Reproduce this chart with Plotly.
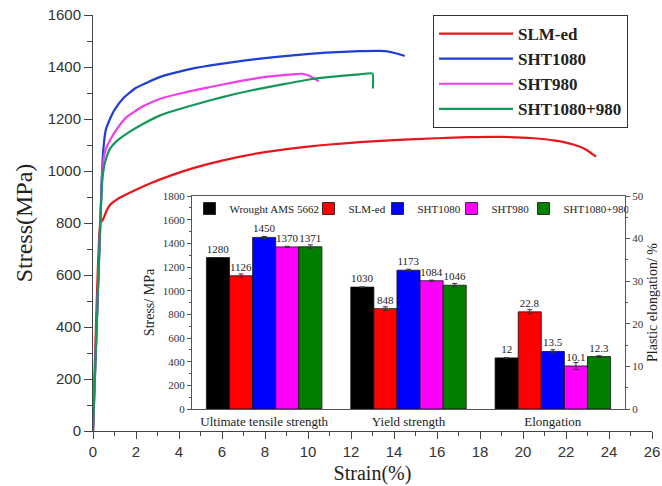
import plotly.graph_objects as go

# ---------------- main stress-strain curves ----------------
slm_strain = [0, 0.34, 0.42, 0.5, 0.62, 0.8, 1.2, 2.0, 2.65, 3.7, 4.7, 6.0, 7.8, 9.0, 10.0, 11.0,
              12.4, 14.0, 16.0, 17.5, 19.0, 20.5, 21.5, 22.3, 22.9, 23.4]
slm_stress = [0, 800, 808, 820, 845, 870, 895, 928, 952, 985, 1012, 1040, 1070, 1084, 1094, 1102,
              1111, 1119, 1126, 1130, 1131, 1126, 1117, 1103, 1084, 1055]

sht1080_strain = [0, 0.34, 0.42, 0.5, 0.6, 0.79, 1.0, 1.41, 2.0, 3.13, 4.3, 5.46, 6.6, 7.78, 9.3,
                  10.85, 12.4, 13.35, 13.7, 13.97, 14.25, 14.5]
sht1080_stress = [0, 800, 1000, 1100, 1160, 1200, 1235, 1280, 1320, 1362, 1388, 1406, 1420, 1432, 1445,
                  1455, 1461, 1462, 1460, 1455, 1449, 1442]

sht980_strain = [0, 0.34, 0.42, 0.5, 0.6, 0.79, 1.1, 1.57, 2.3, 3.13, 4.3, 5.46, 6.6, 7.78, 8.6,
                 9.33, 9.72, 10.0, 10.2, 10.5]
sht980_stress = [0, 800, 980, 1050, 1085, 1118, 1160, 1208, 1248, 1278, 1303, 1323, 1342, 1359, 1367,
                 1372, 1374, 1368, 1360, 1345]

combo_strain = [0, 0.34, 0.42, 0.5, 0.6, 0.79, 1.1, 1.57, 2.3, 3.13, 4.3, 5.46, 6.6, 7.78, 9.0,
                10.1, 11.2, 12.4, 13.0, 13.02]
combo_stress = [0, 800, 950, 1010, 1045, 1086, 1115, 1144, 1180, 1214, 1245, 1272, 1296, 1317, 1336,
                1353, 1363, 1372, 1375, 1317]

curve_names = ["SLM-ed", "SHT1080", "SHT980", "SHT1080+980"]
curve_colors = ["#e8161c", "#1f3fd2", "#ee3eee", "#14985a"]

# ---------------- inset bar chart ----------------
strength_categories = ["Ultimate tensile strength", "Yield strength"]
elong_categories = ["Elongation"]
bar_series = ["Wrought AMS 5662", "SLM-ed", "SHT1080", "SHT980", "SHT1080+980"]
bar_colors = ["#000000", "#ff0000", "#0000ff", "#ff00ff", "#008000"]
uts = [1280, 1126, 1450, 1370, 1371]
uts_err = [0, 15, 8, 5, 16]
ys = [1030, 848, 1173, 1084, 1046]
ys_err = [0, 15, 8, 5, 15]
elong = [12, 22.8, 13.5, 10.1, 12.3]
elong_err = [0, 0.5, 0.4, 0.8, 0.2]

serif = "Liberation Serif, Times New Roman, serif"
sans = "Liberation Sans, Arial, sans-serif"

# plot-area geometry in page pixels
PL, PR, PT, PB = 93, 652, 15, 431
PW, PH = PR - PL, PB - PT
FIG_W, FIG_H = 662, 486


def px_x(p):
    return (p - PL) / PW


def px_y(p):
    return (PB - p) / PH


fig = go.Figure()

curves = [(slm_strain, slm_stress), (sht1080_strain, sht1080_stress),
          (sht980_strain, sht980_stress), (combo_strain, combo_stress)]
for (sx, sy), name, col in zip(curves, curve_names, curve_colors):
    fig.add_trace(go.Scatter(x=sx, y=sy, mode="lines", name=name,
                             line=dict(color=col, width=2.2, shape="spline", smoothing=0.4),
                             xaxis="x", yaxis="y", legend="legend"))

bw = 0.16
legend_widths = [74, 24, 29, 27, 60]
for i, (name, col) in enumerate(zip(bar_series, bar_colors)):
    off = -0.4 + i * bw
    fig.add_trace(go.Bar(
        x=strength_categories, y=[uts[i], ys[i]], name=name,
        marker=dict(color=col, line=dict(color="#111111", width=0.8)),
        error_y=dict(type="data", array=[uts_err[i], ys_err[i]], color="#333333", thickness=1, width=2.5),
        text=[str(uts[i]), str(ys[i])], textposition="outside", cliponaxis=False,
        textfont=dict(family=serif, size=11, color="#222222"),
        width=bw, offset=off, xaxis="x2", yaxis="y3", legend="legend2", showlegend=True,
        legendwidth=legend_widths[i]))
    fig.add_trace(go.Bar(
        x=elong_categories, y=[elong[i]], name=name,
        marker=dict(color=col, line=dict(color="#111111", width=0.8)),
        error_y=dict(type="data", array=[elong_err[i]], color="#333333", thickness=1, width=2.5),
        text=[str(elong[i])], textposition="outside", cliponaxis=False,
        textfont=dict(family=serif, size=11, color="#222222"),
        width=bw, offset=off, xaxis="x2", yaxis="y4", legend="legend2", showlegend=False))

axis_col = "#444444"
fig.update_layout(
    width=FIG_W, height=FIG_H,
    margin=dict(l=PL, r=FIG_W - PR, t=PT, b=FIG_H - PB, autoexpand=False),
    paper_bgcolor="white", plot_bgcolor="white",
    barmode="overlay",
    xaxis=dict(domain=[0, 1], range=[0, 26], dtick=2, anchor="y", automargin=False,
               showline=True, linecolor=axis_col, linewidth=1, showgrid=False, zeroline=False,
               ticks="outside", ticklen=7, tickcolor=axis_col, ticklabeloverflow="allow",
               minor=dict(dtick=1, ticks="outside", ticklen=4, tickcolor=axis_col),
               tickfont=dict(family=sans, size=15, color="#333333"),
               title=dict(text="Strain(%)", font=dict(family=serif, size=20, color="#222222"), standoff=6)),
    yaxis=dict(domain=[0, 1], range=[0, 1600], dtick=200, anchor="x", automargin=False,
               showline=True, linecolor=axis_col, linewidth=1, showgrid=False, zeroline=False,
               ticks="outside", ticklen=8, tickcolor=axis_col, ticklabeloverflow="allow",
               minor=dict(dtick=100, ticks="outside", ticklen=5, tickcolor=axis_col),
               tickfont=dict(family=sans, size=15, color="#333333"),
               title=dict(text="Stress(MPa)", font=dict(family=serif, size=24, color="#222222"), standoff=8)),
    xaxis2=dict(domain=[px_x(192), px_x(625)], anchor="y3", automargin=False,
                type="category", categoryorder="array",
                categoryarray=strength_categories + elong_categories,
                range=[-0.5, 2.5],
                showline=True, mirror=True, linecolor="#555555", linewidth=1, showgrid=False,
                ticks="", tickfont=dict(family=serif, size=13, color="#222222")),
    yaxis3=dict(domain=[px_y(409), px_y(196)], anchor="x2", automargin=False,
                range=[0, 1800], dtick=200, showline=True, linecolor="#555555", linewidth=1,
                showgrid=False, zeroline=False, ticks="outside", ticklen=4, tickcolor="#555555",
                minor=dict(dtick=100, ticks="outside", ticklen=2, tickcolor="#555555"),
                tickfont=dict(family=serif, size=11, color="#333333"),
                title=dict(text="Stress/ MPa", font=dict(family=serif, size=14, color="#222222"), standoff=4)),
    yaxis4=dict(overlaying="y3", side="right", anchor="x2", automargin=False,
                range=[0, 50], dtick=10, showline=True, linecolor="#555555", linewidth=1,
                showgrid=False, zeroline=False, ticks="outside", ticklen=4, tickcolor="#555555",
                minor=dict(dtick=5, ticks="outside", ticklen=2, tickcolor="#555555"),
                tickfont=dict(family=serif, size=11, color="#333333"),
                title=dict(text="Plastic elongation/ %", font=dict(family=serif, size=14, color="#222222"), standoff=4)),
    legend=dict(x=px_x(628), xanchor="right", y=1.0, yanchor="top",
                bgcolor="white", bordercolor="#333333", borderwidth=1, itemwidth=74,
                font=dict(family=serif, size=17, color="#222222", weight="bold"),
                tracegroupgap=0),
    legend2=dict(x=px_x(189.5), xanchor="left", y=px_y(194), yanchor="top",
                 orientation="h", bgcolor="rgba(0,0,0,0)", borderwidth=0, itemwidth=30,
                 font=dict(family=serif, size=11, color="#222222"), traceorder="normal"),
    showlegend=True,
)

# remove the default page margin so the 662x486 figure fills the window exactly
fig.write_html("out.html",
               config={"displayModeBar": False},
               post_script="document.body.style.margin='0';document.body.style.overflow='hidden';")
